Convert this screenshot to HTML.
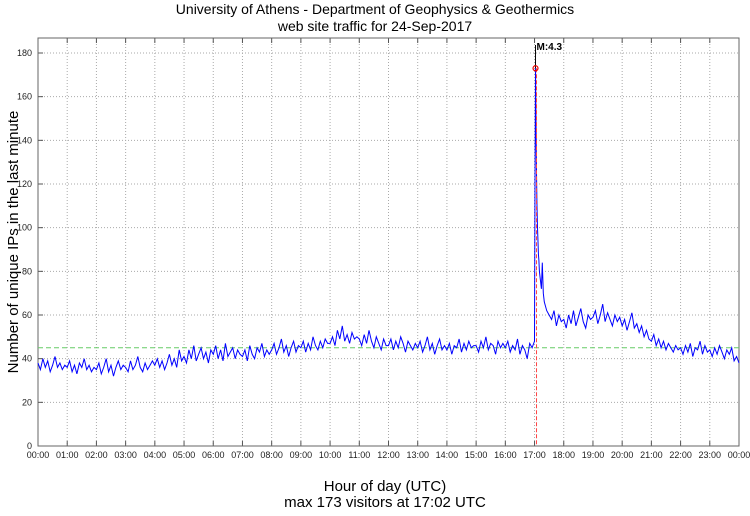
<!DOCTYPE html>
<html><head><meta charset="utf-8"><style>
body{margin:0;background:#fff;}
svg text{font-family:"Liberation Sans",sans-serif;}
</style></head><body>
<svg id="chart" width="750" height="511" xmlns="http://www.w3.org/2000/svg">
<text x="375" y="14" text-anchor="middle" font-size="14">University of Athens - Department of Geophysics &amp; Geothermics</text>
<text x="375" y="31" text-anchor="middle" font-size="14">web site traffic for 24-Sep-2017</text>
<text transform="translate(18,242) rotate(-90)" text-anchor="middle" font-size="15">Number of unique IPs in the last minute</text>
<text x="385" y="491" text-anchor="middle" font-size="15">Hour of day (UTC)</text>
<text x="385" y="507" text-anchor="middle" font-size="15">max 173 visitors at 17:02 UTC</text>
<g id="grid"></g><g id="axes"></g><g id="series"></g>
</svg>
<script>
const hourly = [
[38,35,40,36,39,34,37,41,36,38,35,37],
[36,39,34,37,33,38,36,40,35,37,34,36],
[35,38,33,36,40,34,37,32,36,39,35,37],
[36,34,39,35,37,41,36,34,38,35,37,39],
[37,40,36,39,35,38,42,37,40,36,44,39],
[41,38,44,40,46,39,42,45,40,43,38,44],
[42,46,40,44,39,47,41,43,45,40,44,42],
[41,44,39,46,42,40,45,43,47,41,44,42],
[44,47,42,45,49,43,46,41,45,48,43,46],
[45,48,43,47,44,50,46,44,48,45,49,47],
[47,50,46,53,49,55,48,51,47,52,49,50],
[49,46,51,47,53,48,45,50,47,44,49,46],
[46,49,44,48,45,50,47,43,48,46,44,47],
[45,48,43,46,50,44,47,42,46,49,44,46],
[44,47,42,46,45,49,43,47,44,48,45,46],
[46,43,48,45,50,44,47,46,42,48,45,47],
[45,48,43,46,44,49,42,46,44,40,47,45]
];
const spikeMinutes = [1020,1021,1022,1023,1024,1025,1026,1027,1028,1029,1030,1032,1034,1036,1038,1040,1045,1050,1055,1060,1065,1070,1075];
const spikeValues = [48,120,173,150,125,110,100,95,88,85,80,76,72,84,70,66,62,60,58,62,55,60,57];
const hourlyLate = [
[58,54,60,56,62,55,59,63,57,54,60,58],
[59,62,56,60,65,57,61,58,55,60,57,59],
[55,58,53,57,61,54,56,52,55,50,53,49],
[48,51,46,49,45,48,44,47,45,43,46,44],
[45,42,46,43,47,41,45,44,48,42,46,43],
[44,41,45,42,46,43,40,44,42,45,39,41]
];
const endValue = 38;
const yTicks = [0,20,40,60,80,100,120,140,160,180];
const xTickLabels = ["00:00","01:00","02:00","03:00","04:00","05:00","06:00","07:00","08:00","09:00","10:00","11:00","12:00","13:00","14:00","15:00","16:00","17:00","18:00","19:00","20:00","21:00","22:00","23:00","00:00"];
const avgLevel = 45;
const maxMinute = 1022, maxValue = 173, markerLabel = "M:4.3";

const NS="http://www.w3.org/2000/svg";
const L=38,R=739,T=38,B=446;
const x=m=>L+(m/1440)*(R-L);
const y=v=>B-v*(393/180);
function mk(tag,attrs,parent){const e=document.createElementNS(NS,tag);for(const k in attrs)e.setAttribute(k,attrs[k]);parent.appendChild(e);return e;}
const grid=document.getElementById('grid'),axes=document.getElementById('axes'),series=document.getElementById('series');

yTicks.forEach(v=>{
  if(v>0){const g=mk('line',{x1:L,x2:R,y1:y(v),y2:y(v),stroke:'#aaa','stroke-dasharray':'1,2'},grid);
  
  }
  const t=mk('text',{x:L-6,y:y(v)+3,'text-anchor':'end','font-size':9,fill:'#222'},axes);t.textContent=v;
  
  
  mk('line',{x1:L,x2:L+5,y1:y(v),y2:y(v),stroke:'#555'},axes);
});
xTickLabels.forEach((s,i)=>{
  const xx=x(i*60);
  if(i>0&&i<24){const g=mk('line',{x1:xx,x2:xx,y1:T,y2:B,stroke:'#aaa','stroke-dasharray':'1,2'},grid);
  
  }
  mk('line',{x1:xx,x2:xx,y1:B,y2:B-5,stroke:'#555'},axes);
  mk('line',{x1:xx,x2:xx,y1:T,y2:T+5,stroke:'#555'},axes);
  const t=mk('text',{x:xx,y:B+12,'text-anchor':'middle','font-size':9,fill:'#222'},axes);t.textContent=s;
  
  
});
const frame=mk('rect',{x:L,y:T,width:R-L,height:B-T,fill:'none',stroke:'#666'},axes);



const pts=[];
hourly.forEach((arr,h)=>arr.forEach((v,i)=>pts.push([h*60+i*5,v])));
spikeMinutes.forEach((m,i)=>pts.push([m,spikeValues[i]]));
hourlyLate.forEach((arr,h)=>arr.forEach((v,i)=>pts.push([(18+h)*60+i*5,v])));
pts.push([1440,endValue]);

const avg=mk('line',{x1:L,x2:R,y1:y(avgLevel),y2:y(avgLevel),stroke:'#6c6','stroke-dasharray':'5,3','stroke-width':1},series);


const line=mk('polyline',{points:pts.map(p=>x(p[0]).toFixed(1)+','+y(p[1]).toFixed(1)).join(' '),fill:'none',stroke:'#00f','stroke-width':1},series);


const vl=mk('line',{x1:x(maxMinute)+1,x2:x(maxMinute)+1,y1:y(maxValue),y2:B,stroke:'#f44','stroke-dasharray':'4,2'},series);


mk('line',{x1:x(maxMinute),x2:x(maxMinute),y1:T+7,y2:y(maxValue),stroke:'#000'},series);
const c=mk('circle',{cx:x(maxMinute),cy:y(maxValue),r:2.5,fill:'none',stroke:'#e00','stroke-width':1.2},series);


const lbl=mk('text',{x:x(maxMinute)+1,y:T+12,'font-size':10,'font-weight':'bold'},series);lbl.textContent=markerLabel;


</script>
</body></html>
